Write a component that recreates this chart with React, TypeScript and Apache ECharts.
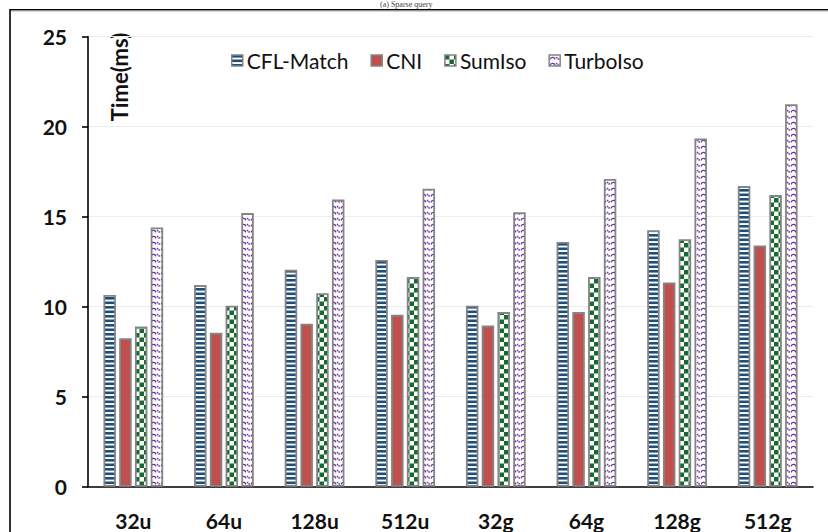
import React, { useEffect, useRef } from "react";
import * as echarts from "echarts";

const categories = ["32u", "64u", "128u", "512u", "32g", "64g", "128g", "512g"];
const seriesNames = ["CFL-Match", "CNI", "SumIso", "TurboIso"];
const cflMatch = [10.65, 11.2, 12.05, 12.6, 10.05, 13.6, 14.25, 16.7];
const cni = [8.25, 8.55, 9.05, 9.55, 8.95, 9.7, 11.35, 13.4];
const sumIso = [8.9, 10.05, 10.75, 11.65, 9.7, 11.65, 13.75, 16.2];
const turboIso = [14.4, 15.2, 15.95, 16.55, 15.25, 17.1, 19.35, 21.25];
const yTicks = [0, 5, 10, 15, 20, 25];

function makeCanvas(w: number, h: number, draw: (ctx: CanvasRenderingContext2D) => void) {
  const c = document.createElement("canvas");
  c.width = w;
  c.height = h;
  const ctx = c.getContext("2d")!;
  ctx.fillStyle = "#ffffff";
  ctx.fillRect(0, 0, w, h);
  draw(ctx);
  return c;
}

export default function App() {
  const ref = useRef<HTMLDivElement>(null);
  useEffect(() => {
    document.body.style.margin = "0";
    if (!ref.current) return;
    const chart = echarts.init(ref.current, null, { renderer: "svg" });

    const stripes = makeCanvas(8, 9, (ctx) => {
      ctx.fillStyle = "#1F4E79";
      ctx.fillRect(0, 0, 8, 2.6);
      ctx.fillRect(0, 4.5, 8, 2.6);
    });
    const checker = makeCanvas(9, 9, (ctx) => {
      ctx.fillStyle = "#17692F";
      ctx.fillRect(0, 0, 4.5, 4.5);
      ctx.fillRect(4.5, 4.5, 4.5, 4.5);
    });
    const waves = makeCanvas(10, 6, (ctx) => {
      ctx.strokeStyle = "#6A2C9E";
      ctx.lineWidth = 1.4;
      ctx.beginPath();
      ctx.arc(3.5, 4.8, 2.4, Math.PI * 1.05, Math.PI * 1.95);
      ctx.stroke();
      ctx.fillStyle = "#6A2C9E";
      ctx.fillRect(6.8, 1.8, 1.5, 1.5);
      ctx.fillRect(8.4, 3.2, 1.5, 1.5);
    });

    const pat = (c: HTMLCanvasElement) => ({
      image: c,
      repeat: "repeat",
      imageWidth: c.width,
      imageHeight: c.height,
    });

    const fills: any[] = [pat(stripes), "#C0504D", pat(checker), pat(waves)];
    const data = [cflMatch, cni, sumIso, turboIso];
    const border = "#858585";

    const series = seriesNames.map((name, i) => ({
      name,
      type: "bar",
      data: data[i],
      barWidth: 12.5,
      barGap: "26%",
      itemStyle: { color: fills[i], borderColor: border, borderWidth: 1.8 },
    }));

    chart.setOption({
      animation: false,
      backgroundColor: "#ffffff",
      grid: { left: 88, right: 15, top: 36.7, bottom: 45.3 },
      legend: {
        top: 45,
        left: 226,
        itemWidth: 11,
        itemHeight: 11,
        itemGap: 22,
        icon: "rect",
        itemStyle: { borderColor: border, borderWidth: 1.5 },
        textStyle: { fontFamily: "Lato", fontSize: 21, color: "#111", padding: [0, 0, 0, -1] },
        data: seriesNames,
      },
      xAxis: {
        type: "category",
        data: categories,
        axisLine: { lineStyle: { color: "#000", width: 1.6 } },
        axisTick: { show: false },
        axisLabel: {
          margin: 23,
          fontFamily: "Lato",
          fontWeight: "bold",
          fontSize: 21,
          color: "#111",
        },
      },
      yAxis: {
        type: "value",
        min: yTicks[0],
        max: yTicks[yTicks.length - 1],
        interval: 5,
        axisLine: { show: true, lineStyle: { color: "#000", width: 1.6 } },
        axisTick: { show: true, inside: false, length: 6, lineStyle: { color: "#000", width: 1.6 } },
        splitLine: { lineStyle: { color: "#ececec", width: 1 } },
        axisLabel: {
          margin: 21,
          fontFamily: "Lato",
          fontWeight: "bold",
          fontSize: 21,
          color: "#111",
        },
      },
      graphic: [
        {
          type: "text",
          left: 380,
          top: 0,
          style: {
            text: "(a) Sparse query",
            font: "8px 'Liberation Serif'",
            fill: "#444",
          },
        },
        {
          type: "line",
          shape: { x1: 10, y1: 9.7, x2: 828, y2: 9.7 },
          style: { stroke: "#000", lineWidth: 1.6 },
        },
        {
          type: "line",
          shape: { x1: 11, y1: 11, x2: 828, y2: 11 },
          style: { stroke: "#aaa", lineWidth: 1 },
        },
        {
          type: "line",
          shape: { x1: 10, y1: 9, x2: 10, y2: 532 },
          style: { stroke: "#000", lineWidth: 1.6 },
        },
        {
          type: "text",
          x: 119,
          y: 77,
          rotation: Math.PI / 2,
          style: {
            text: "Time(ms)",
            font: "bold 22px Lato",
            fill: "#111",
            align: "center",
            verticalAlign: "middle",
          },
        },
      ],
      series,
    });
    return () => chart.dispose();
  }, []);
  return <div ref={ref} style={{ width: 828, height: 532 }} />;
}
